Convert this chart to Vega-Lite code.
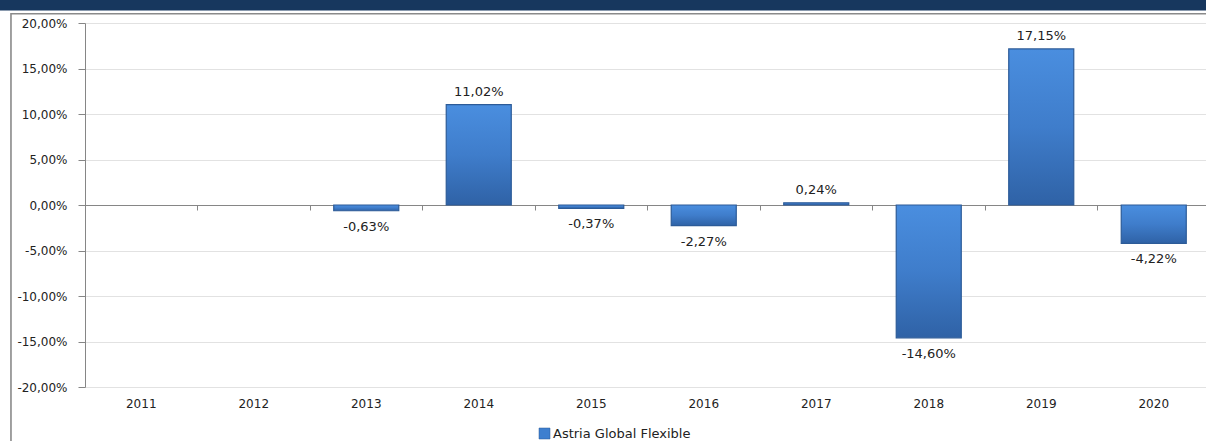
{
  "$schema": "https://vega.github.io/schema/vega-lite/v6.json",
  "width": 1125,
  "height": 364,
  "autosize": {"type": "none"},
  "padding": {"left": 85, "top": 23, "right": 0, "bottom": 54},
  "background": "white",
  "config": {
    "locale": {"number": {"decimal": ",", "thousands": ".", "grouping": [3], "currency": ["", " €"], "minus": "-"}},
    "view": {"stroke": null},
    "font": "DejaVu Sans"
  },
  "resolve": {"scale": {"x": "independent"}, "axis": {"x": "independent"}},
  "layer": [
    {
      "data": {"values": [{"part": "band", "x0": -0.08, "x1": 1.1, "y0": 0.2255, "y1": 0.2138}]},
      "mark": {"type": "rect", "fill": "#17375E"},
      "encoding": {
        "x": {"field": "x0", "type": "quantitative", "scale": {"domain": [0, 1], "nice": false, "zero": false}, "axis": null},
        "x2": {"field": "x1"},
        "y": {"field": "y0", "type": "quantitative", "scale": {"domain": [-0.2, 0.2], "nice": false}},
        "y2": {"field": "y1"}
      }
    },
    {
      "data": {"values": [{"part": "frame", "x0": -0.0658, "x1": 1.2, "y0": 0.2102, "y1": -0.35}]},
      "mark": {"type": "rect", "fill": null, "stroke": "#8A8A8A", "strokeWidth": 1.6},
      "encoding": {
        "x": {"field": "x0", "type": "quantitative", "scale": {"domain": [0, 1], "nice": false, "zero": false}, "axis": null},
        "x2": {"field": "x1"},
        "y": {"field": "y0", "type": "quantitative", "scale": {"domain": [-0.2, 0.2], "nice": false}},
        "y2": {"field": "y1"}
      }
    },
    {
      "data": {"values": [
        {"year": "2013", "value": -0.0063, "fund": "Astria Global Flexible"},
        {"year": "2014", "value": 0.1102, "fund": "Astria Global Flexible"},
        {"year": "2015", "value": -0.0037, "fund": "Astria Global Flexible"},
        {"year": "2016", "value": -0.0227, "fund": "Astria Global Flexible"},
        {"year": "2017", "value": 0.0024, "fund": "Astria Global Flexible"},
        {"year": "2018", "value": -0.146, "fund": "Astria Global Flexible"},
        {"year": "2019", "value": 0.1715, "fund": "Astria Global Flexible"},
        {"year": "2020", "value": -0.0422, "fund": "Astria Global Flexible"}
      ]},
      "resolve": {"axis": {"x": "independent"}},
      "layer": [
        {
          "mark": {
            "type": "bar",
            "fill": {"gradient": "linear", "x1": 0, "x2": 0, "y1": 0, "y2": 1, "stops": [
              {"offset": 0, "color": "#4A8EDF"},
              {"offset": 0.5, "color": "#3F7DCB"},
              {"offset": 1, "color": "#2F62A6"}
            ]},
            "stroke": "#2C5B98",
            "strokeWidth": 1.2
          },
          "encoding": {
            "x": {
              "field": "year", "type": "nominal",
              "scale": {"domain": ["2011", "2012", "2013", "2014", "2015", "2016", "2017", "2018", "2019", "2020"], "paddingInner": 0.422, "paddingOuter": 0.211},
              "axis": {"title": null, "orient": "bottom", "domain": false, "ticks": false, "grid": false, "labelAngle": 0, "labelFont": "DejaVu Sans", "labelFontSize": 12, "labelColor": "#222222", "labelPadding": 11}
            },
            "y": {
              "field": "value", "type": "quantitative",
              "scale": {"domain": [-0.2, 0.2], "nice": false},
              "axis": {"title": null, "values": [-0.2, -0.15, -0.1, -0.05, 0, 0.05, 0.1, 0.15, 0.2], "format": ".2%", "labelFont": "DejaVu Sans", "labelFontSize": 12, "labelColor": "#222222", "labelPadding": 11, "tickSize": 7, "tickColor": "#868686", "domainColor": "#868686", "gridColor": "#E2E2E2", "gridWidth": 1}
            }
          }
        },
        {
          "transform": [{"filter": "datum.value > 0"}],
          "mark": {"type": "text", "baseline": "alphabetic", "dy": -9, "fontSize": 13, "font": "DejaVu Sans", "color": "#222222"},
          "encoding": {
            "x": {
              "field": "year", "type": "nominal",
              "scale": {"domain": ["2011", "2012", "2013", "2014", "2015", "2016", "2017", "2018", "2019", "2020"], "paddingInner": 0.422, "paddingOuter": 0.211},
              "axis": {"title": null, "orient": "top", "offset": -182, "labels": false, "grid": false, "domain": true, "domainColor": "#868686", "ticks": true, "tickColor": "#868686", "tickSize": -5, "bandPosition": -0.365}
            },
            "y": {"field": "value", "type": "quantitative"},
            "text": {"field": "value", "type": "quantitative", "format": ".2%"}
          }
        },
        {
          "transform": [{"filter": "datum.value < 0"}],
          "mark": {"type": "text", "baseline": "top", "dy": 10, "fontSize": 13, "font": "DejaVu Sans", "color": "#222222"},
          "encoding": {
            "x": {
              "field": "year", "type": "nominal",
              "scale": {"domain": ["2011", "2012", "2013", "2014", "2015", "2016", "2017", "2018", "2019", "2020"], "paddingInner": 0.422, "paddingOuter": 0.211},
              "axis": null
            },
            "y": {"field": "value", "type": "quantitative"},
            "text": {"field": "value", "type": "quantitative", "format": ".2%"}
          }
        },
        {
          "mark": {"type": "point", "shape": "square", "opacity": 0, "filled": true},
          "encoding": {
            "x": {
              "field": "year", "type": "nominal",
              "scale": {"domain": ["2011", "2012", "2013", "2014", "2015", "2016", "2017", "2018", "2019", "2020"], "paddingInner": 0.422, "paddingOuter": 0.211},
              "axis": null
            },
            "y": {"field": "value", "type": "quantitative"},
            "color": {
              "field": "fund", "type": "nominal",
              "scale": {"range": ["#3E7FCF"]},
              "legend": {"title": null, "orient": "none", "legendX": 453, "legendY": 404, "padding": 0, "symbolSize": 121, "symbolOpacity": 1, "symbolStrokeColor": "#2A5A96", "symbolStrokeWidth": 0.5, "labelFont": "DejaVu Sans", "labelFontSize": 13, "labelColor": "#222222", "labelOffset": 2}
            }
          }
        }
      ]
    }
  ]
}
